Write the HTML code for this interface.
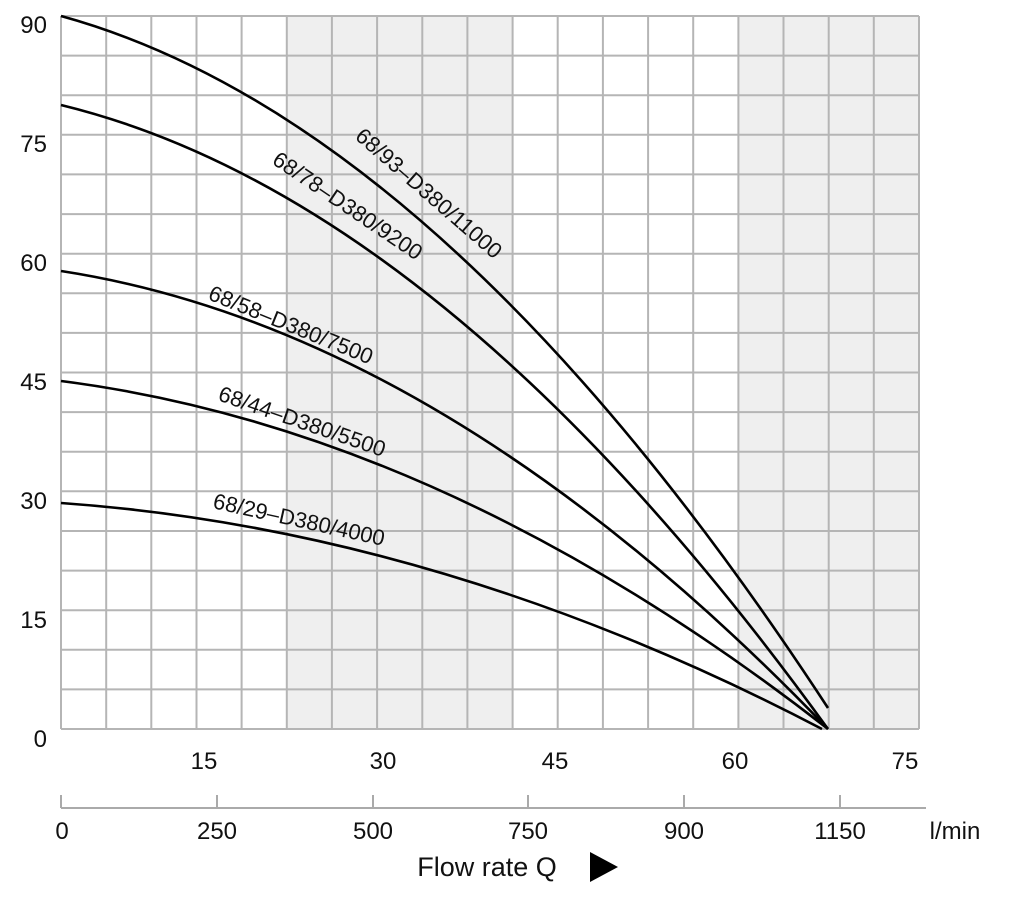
<!DOCTYPE html>
<html><head><style>body{margin:0;background:#fff}</style></head><body>
<svg width="1026" height="892" xmlns="http://www.w3.org/2000/svg" font-family="Liberation Sans, sans-serif">
<rect x="287" y="16" width="226" height="713" fill="#efefef"/>
<rect x="738" y="16" width="181" height="713" fill="#efefef"/>
<g stroke="#b5b5b5" stroke-width="2">
<line x1="61" y1="16" x2="61" y2="729"/><line x1="106.2" y1="16" x2="106.2" y2="729"/><line x1="151.3" y1="16" x2="151.3" y2="729"/><line x1="196.5" y1="16" x2="196.5" y2="729"/><line x1="241.6" y1="16" x2="241.6" y2="729"/><line x1="286.8" y1="16" x2="286.8" y2="729"/><line x1="331.9" y1="16" x2="331.9" y2="729"/><line x1="377.1" y1="16" x2="377.1" y2="729"/><line x1="422.3" y1="16" x2="422.3" y2="729"/><line x1="467.4" y1="16" x2="467.4" y2="729"/><line x1="512.6" y1="16" x2="512.6" y2="729"/><line x1="557.7" y1="16" x2="557.7" y2="729"/><line x1="602.9" y1="16" x2="602.9" y2="729"/><line x1="648.1" y1="16" x2="648.1" y2="729"/><line x1="693.2" y1="16" x2="693.2" y2="729"/><line x1="738.4" y1="16" x2="738.4" y2="729"/><line x1="783.5" y1="16" x2="783.5" y2="729"/><line x1="828.7" y1="16" x2="828.7" y2="729"/><line x1="873.8" y1="16" x2="873.8" y2="729"/><line x1="919" y1="16" x2="919" y2="729"/>
<line x1="61" y1="16" x2="919" y2="16"/><line x1="61" y1="55.6" x2="919" y2="55.6"/><line x1="61" y1="95.2" x2="919" y2="95.2"/><line x1="61" y1="134.8" x2="919" y2="134.8"/><line x1="61" y1="174.4" x2="919" y2="174.4"/><line x1="61" y1="214.1" x2="919" y2="214.1"/><line x1="61" y1="253.7" x2="919" y2="253.7"/><line x1="61" y1="293.3" x2="919" y2="293.3"/><line x1="61" y1="332.9" x2="919" y2="332.9"/><line x1="61" y1="372.5" x2="919" y2="372.5"/><line x1="61" y1="412.1" x2="919" y2="412.1"/><line x1="61" y1="451.7" x2="919" y2="451.7"/><line x1="61" y1="491.3" x2="919" y2="491.3"/><line x1="61" y1="531" x2="919" y2="531"/><line x1="61" y1="570.6" x2="919" y2="570.6"/><line x1="61" y1="610.2" x2="919" y2="610.2"/><line x1="61" y1="649.8" x2="919" y2="649.8"/><line x1="61" y1="689.4" x2="919" y2="689.4"/><line x1="61" y1="729" x2="919" y2="729"/>
</g>
<g fill="none" stroke="#000" stroke-width="2.6">
<path d="M61 16 Q444.5 121.5 828 708"/>
<path d="M61 105 Q444.5 198.6 828 729"/>
<path d="M61 271 Q444.5 330 828 729"/>
<path d="M61 381 Q444.5 430 828 729"/>
<path d="M61 503 Q441.5 530 822 729"/>
</g>
<g font-size="22" fill="#111">
<text transform="translate(354,138) rotate(41)">68/93–D380/11000</text>
<text transform="translate(271,163) rotate(34)">68/78–D380/9200</text>
<text transform="translate(207,299) rotate(22)">68/58–D380/7500</text>
<text transform="translate(217,400) rotate(19)">68/44–D380/5500</text>
<text transform="translate(212,508) rotate(12.5)">68/29–D380/4000</text>
</g>
<g font-size="24" fill="#111" text-anchor="end">
<text x="47" y="33">90</text><text x="47" y="152">75</text><text x="47" y="271">60</text>
<text x="47" y="390">45</text><text x="47" y="509">30</text><text x="47" y="628">15</text><text x="47" y="747">0</text>
</g>
<g font-size="24" fill="#111" text-anchor="middle">
<text x="204" y="769">15</text><text x="383" y="769">30</text><text x="555" y="769">45</text>
<text x="735" y="769">60</text><text x="905" y="769">75</text>
<text x="62" y="839">0</text><text x="217" y="839">250</text><text x="373" y="839">500</text>
<text x="528" y="839">750</text><text x="684" y="839">900</text><text x="840" y="839">1150</text>
<text x="955" y="839">l/min</text>
<text x="487" y="876" font-size="27">Flow rate Q</text>
</g>
<polygon points="590,852 590,882 618,867" fill="#000"/>
<g stroke="#aaa" stroke-width="2">
<line x1="61" y1="808" x2="926" y2="808"/>
<line x1="61" y1="795" x2="61" y2="808"/><line x1="217" y1="795" x2="217" y2="808"/>
<line x1="373" y1="795" x2="373" y2="808"/><line x1="528" y1="795" x2="528" y2="808"/>
<line x1="684" y1="795" x2="684" y2="808"/><line x1="840" y1="795" x2="840" y2="808"/>
</g>
</svg>
</body></html>
